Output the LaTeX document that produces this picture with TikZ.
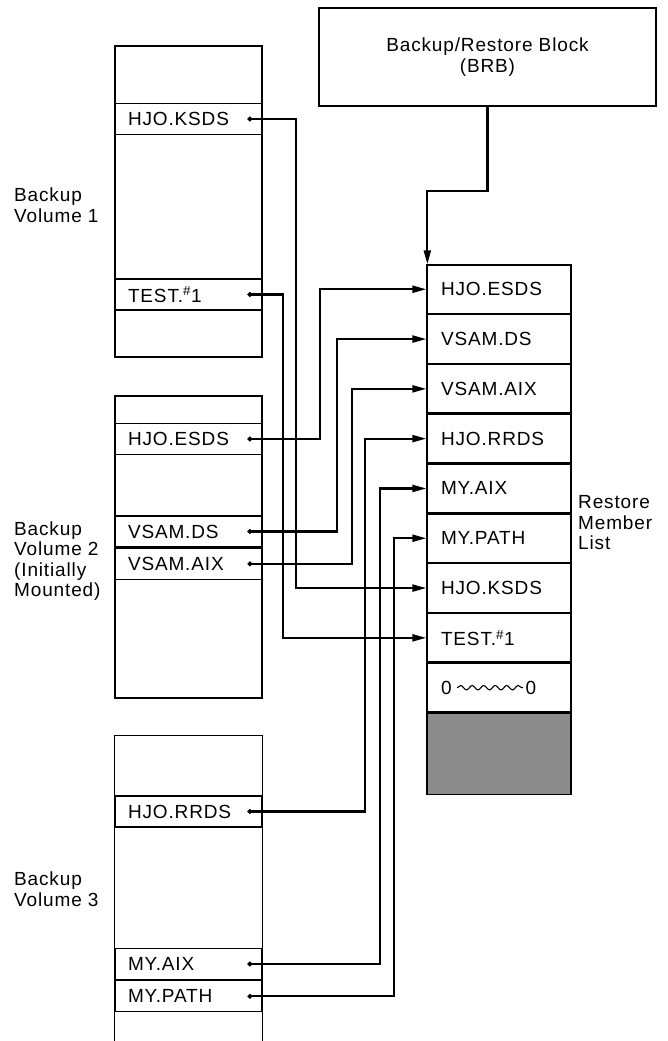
\documentclass[tikz,border=0pt]{standalone}
\usepackage{fontspec}
\setmainfont{Liberation Sans}[LetterSpace=4.5]
\usetikzlibrary{positioning,arrows.meta,decorations.pathmorphing}

\begin{document}
\begin{tikzpicture}[
  x=1pt, y=-1pt,
  font=\fontsize{19}{20.5}\selectfont,
  volume/.style={rectangle, draw, line width=1.3pt, minimum width=147pt},
  vrow/.style={rectangle, draw, line width=1.3pt, text width=121pt, inner xsep=13pt, inner ysep=0pt, minimum height=31pt, align=left},
  mrow/.style={rectangle, draw, line width=1.3pt, text width=116pt, inner xsep=14pt, inner ysep=0pt, minimum height=48.5pt, align=left},
  side/.style={align=left, anchor=west, inner sep=0pt},
  conn/.style={{Circle[length=4.5pt]}-{Triangle[length=14pt,width=7pt]}, line width=2.2pt},
  arrow/.style={-{Triangle[length=14pt,width=7pt]}, line width=2.2pt},
]
\useasboundingbox (0,0) rectangle (667,1041);

% === Backup/Restore Block ===
\node[rectangle, draw, line width=1.3pt, minimum width=337pt, minimum height=98pt, align=center] (brb) at (487.5,57) {Backup/Restore Block\\(BRB)};

% === Backup volumes ===
\node[volume, minimum height=311pt] (vol1) at (188.5,201.5) {};
\node[vrow] (v1ksds) at (188.5,119) {HJO.KSDS};
\node[vrow] (v1test) at (188.5,294.5) {TEST.\textsuperscript{\#}1};

\node[volume, minimum height=302pt] (vol2) at (188.5,547) {};
\node[vrow] (v2esds) at (188.5,439) {HJO.ESDS};
\node[vrow] (v2vsamds) at (188.5,531.5) {VSAM.DS};
\node[vrow, below=0pt of v2vsamds] (v2vsamaix) {VSAM.AIX};

\node[volume, draw=none, minimum height=305pt] (vol3) at (188.5,888.5) {};
\draw[line width=1.3pt] (vol3.south west) |- (vol3.north) -| (vol3.south east);
\node[vrow] (v3rrds) at (188.5,811.5) {HJO.RRDS};
\node[vrow] (v3myaix) at (188.5,964) {MY.AIX};
\node[vrow, below=0pt of v3myaix] (v3mypath) {MY.PATH};

\node[side] (lvol1) at (14,205) {Backup\\Volume 1};
\node[side] (lvol2) at (14,561) {Backup\\Volume 2\\(Initially\\Mounted)};
\node[side] (lvol3) at (14,889) {Backup\\Volume 3};

% === Restore member list ===
\node[mrow] (mesds) at (499,289.25) {HJO.ESDS};
\node[mrow, below=0pt of mesds] (mvsamds) {VSAM.DS};
\node[mrow, below=0pt of mvsamds] (mvsamaix) {VSAM.AIX};
\node[mrow, below=0pt of mvsamaix] (mrrds) {HJO.RRDS};
\node[mrow, below=0pt of mrrds] (mmyaix) {MY.AIX};
\node[mrow, below=0pt of mmyaix] (mmypath) {MY.PATH};
\node[mrow, below=0pt of mmypath] (mksds) {HJO.KSDS};
\node[mrow, below=0pt of mksds] (mtest) {TEST.\textsuperscript{\#}1};
\node[mrow, below=0pt of mtest] (mend) {0\hspace{5pt}\tikz[baseline]\draw[line width=1.1pt, decorate, decoration={snake, amplitude=2.2pt, segment length=11.5pt}] (0pt,6.5pt) -- (66pt,6.5pt);\hspace{2pt}0};
\node[mrow, fill=black!45, minimum height=81.5pt, below=0pt of mend] (mfree) {};

\node[side] (lmlist) at (578,523) {Restore\\Member\\List};

% === Connectors ===
\draw[arrow] (brb.south) -- ++(0,84) -| ([xshift=1pt]mesds.north west);

\draw[conn] ([xshift=-15pt]v1ksds.east) -- ++(48,0) |- (mksds.west);
\draw[conn] ([xshift=-15pt]v1test.east) -- ++(35,0) |- (mtest.west);
\draw[conn] ([xshift=-15pt]v2esds.east) -- ++(72,0) |- (mesds.west);
\draw[conn] ([xshift=-15pt]v2vsamds.east) -- ++(89,0) |- (mvsamds.west);
\draw[conn] ([xshift=-15pt]v2vsamaix.east) -- ++(104,0) |- (mvsamaix.west);
\draw[conn] ([xshift=-15pt]v3rrds.east) -- ++(117,0) |- (mrrds.west);
\draw[conn] ([xshift=-15pt]v3myaix.east) -- ++(132,0) |- (mmyaix.west);
\draw[conn] ([xshift=-15pt]v3mypath.east) -- ++(146,0) |- (mmypath.west);

\end{tikzpicture}
\end{document}
